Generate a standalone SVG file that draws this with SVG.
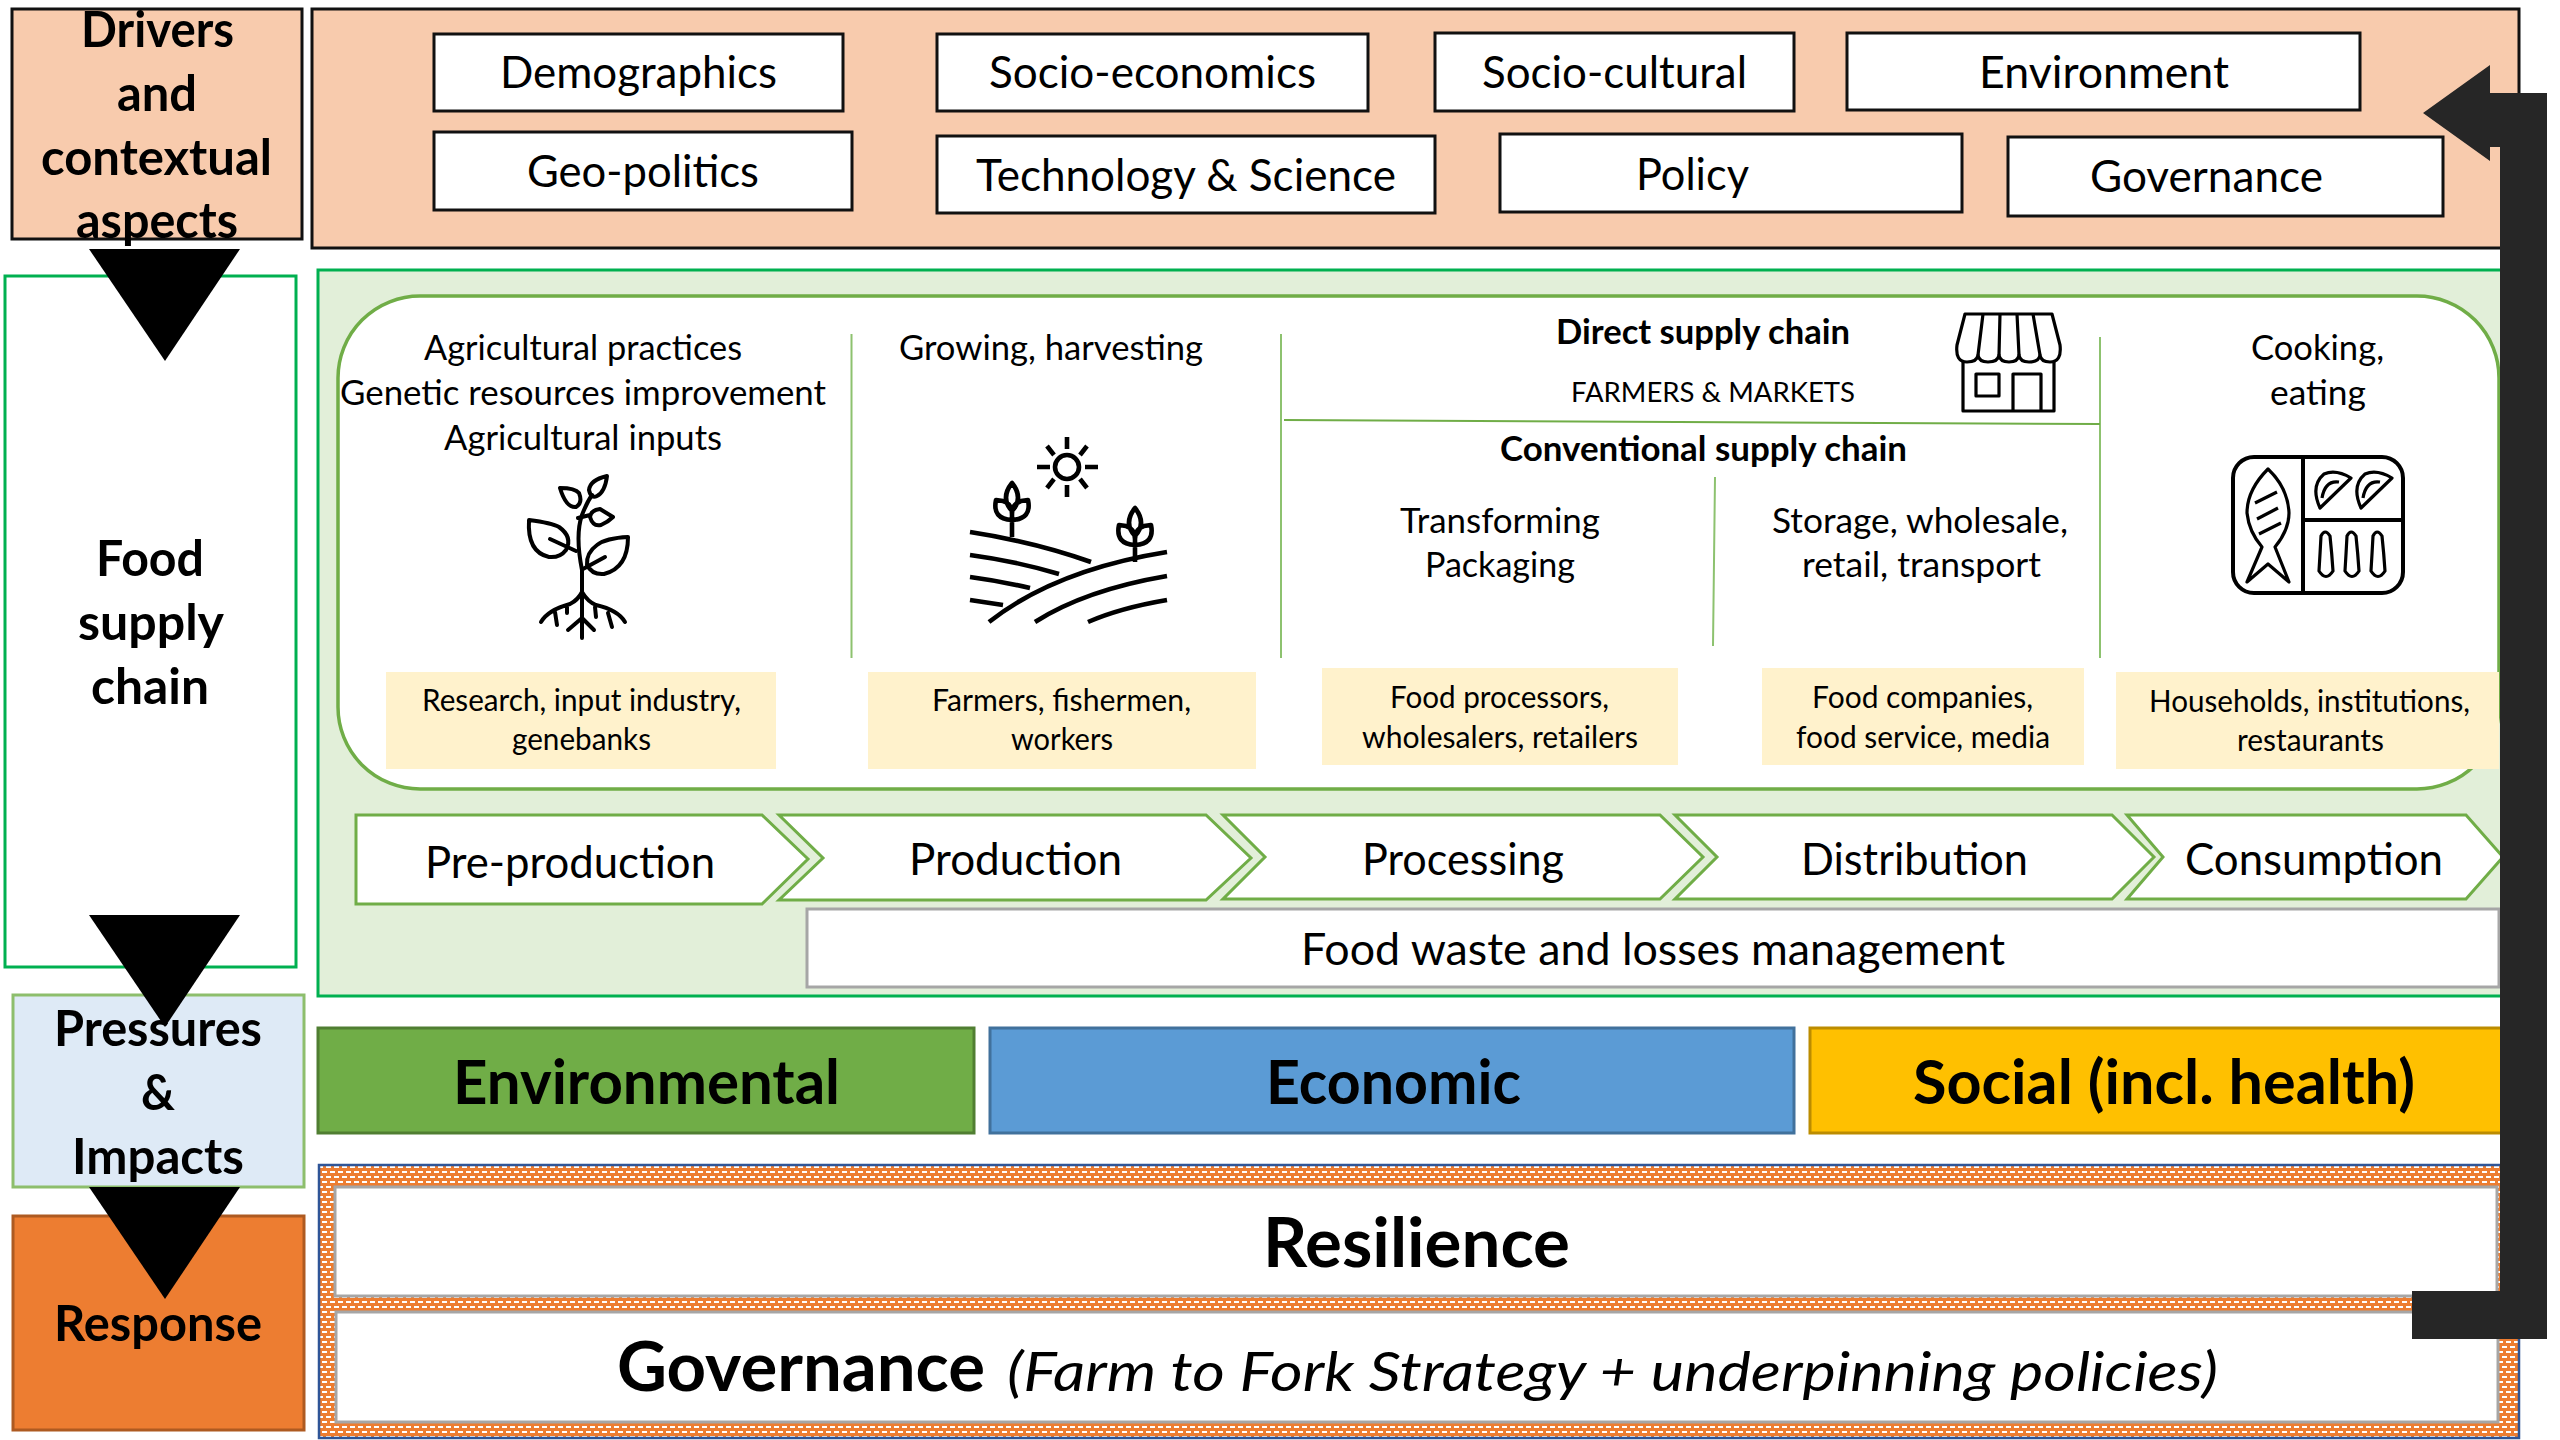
<svg xmlns="http://www.w3.org/2000/svg" width="2560" height="1440" viewBox="0 0 2560 1440">
<style>
text{font-family:"Lato","Carlito","Liberation Sans",sans-serif;fill:#000}
.b{font-weight:700}
.s48{font-size:50px}
.s43{font-size:44.5px}
.s34{font-size:35px}
.s29{font-size:30px}
.s27{font-size:27px}
.s59{font-size:62px}
.s65{font-size:68px}
.s54{font-size:55px;font-style:italic}
.box{fill:#fff;stroke:#111;stroke-width:3}
.peach{fill:#F8CBAD;stroke:#111;stroke-width:3}
.yel{fill:#FFF2CC}
.chev{fill:#fff;stroke:#70AD47;stroke-width:3}
.sep{stroke:#8DC26F;stroke-width:2;fill:none}
.gray{fill:#fff;stroke:#A6A6A6;stroke-width:3}
.ic{fill:none;stroke:#000;stroke-width:4;stroke-linecap:round;stroke-linejoin:round}
.ic2{fill:none;stroke:#000;stroke-width:3.2;stroke-linejoin:round}
.farm{fill:none;stroke:#000;stroke-width:4.6;stroke-linecap:butt;stroke-linejoin:round}
</style>
<defs>
<pattern id="dots" width="8" height="10" patternUnits="userSpaceOnUse" x="318" y="1164">
<rect width="8" height="10" fill="#ED7D31"/>
<rect x="0" y="2" width="5" height="2" fill="#fff"/>
<rect x="4" y="7" width="4" height="2" fill="#fff"/>
<rect x="0" y="7" width="1" height="2" fill="#fff"/>
</pattern>
<g id="tulip">
<path class="farm" d="M1012,537V512M1012,483Q1000,498 1012,511Q1024,498 1012,483ZM996,500Q992,519 1012,520Q1032,519 1028,500L1021,501Q1012,504 1012,514Q1012,504 1003,501Z"/>
</g>
</defs>

<g id="drivers-label">
<rect class="peach" x="12" y="9" width="290" height="230"/>
<text class="b s48" x="81" y="47" textLength="153" lengthAdjust="spacingAndGlyphs">Drivers</text>
<text class="b s48" x="117" y="111" textLength="80" lengthAdjust="spacingAndGlyphs">and</text>
<text class="b s48" x="41" y="175" textLength="231" lengthAdjust="spacingAndGlyphs">contextual</text>
<text class="b s48" x="76" y="238" textLength="162" lengthAdjust="spacingAndGlyphs">aspects</text>
</g>

<g id="drivers-panel">
<rect class="peach" x="312" y="9" width="2207" height="239"/>
</g>
<g id="driver-demographics"><rect class="box" x="434" y="34" width="409" height="77"/><text class="s43" x="500" y="88" textLength="277" lengthAdjust="spacingAndGlyphs">Demographics</text></g>
<g id="driver-socio-economics"><rect class="box" x="937" y="34" width="431" height="77"/><text class="s43" x="989" y="88" textLength="327" lengthAdjust="spacingAndGlyphs">Socio-economics</text></g>
<g id="driver-socio-cultural"><rect class="box" x="1435" y="33" width="359" height="78"/><text class="s43" x="1482" y="88" textLength="265" lengthAdjust="spacingAndGlyphs">Socio-cultural</text></g>
<g id="driver-environment"><rect class="box" x="1847" y="33" width="513" height="77"/><text class="s43" x="1979" y="88" textLength="250" lengthAdjust="spacingAndGlyphs">Environment</text></g>
<g id="driver-geo-politics"><rect class="box" x="434" y="132" width="418" height="78"/><text class="s43" x="527" y="187" textLength="232" lengthAdjust="spacingAndGlyphs">Geo-politics</text></g>
<g id="driver-technology"><rect class="box" x="937" y="136" width="498" height="77"/><text class="s43" x="976" y="191" textLength="420" lengthAdjust="spacingAndGlyphs">Technology &amp; Science</text></g>
<g id="driver-policy"><rect class="box" x="1500" y="134" width="462" height="78"/><text class="s43" x="1636" y="190" textLength="113" lengthAdjust="spacingAndGlyphs">Policy</text></g>
<g id="driver-governance"><rect class="box" x="2008" y="137" width="435" height="79"/><text class="s43" x="2090" y="192" textLength="233" lengthAdjust="spacingAndGlyphs">Governance</text></g>

<g id="food-label">
<rect x="5" y="276" width="291" height="691" fill="#fff" stroke="#00B050" stroke-width="3"/>
<text class="b s48" x="96" y="576" textLength="108" lengthAdjust="spacingAndGlyphs">Food</text>
<text class="b s48" x="78" y="640" textLength="146" lengthAdjust="spacingAndGlyphs">supply</text>
<text class="b s48" x="91" y="704" textLength="118" lengthAdjust="spacingAndGlyphs">chain</text>
</g>

<g id="food-panel">
<rect x="318" y="270" width="2200" height="726" fill="#E2EFD9" stroke="#00B050" stroke-width="3"/>
<rect x="338" y="296" width="2161" height="493" rx="82" ry="82" fill="#fff" stroke="#70AD47" stroke-width="3.5"/>
<path class="sep" d="M851.5,334V658M1281,334V658M2100,337V658M1715,477L1713,646"/>
<path d="M1284,420L2100,424" fill="none" stroke="#70AD47" stroke-width="2"/>
</g>

<g id="stage-preproduction">
<text class="s34" x="424" y="360" textLength="318" lengthAdjust="spacingAndGlyphs">Agricultural practices</text>
<text class="s34" x="340" y="405" textLength="486" lengthAdjust="spacingAndGlyphs">Genetic resources improvement</text>
<text class="s34" x="444" y="450" textLength="278" lengthAdjust="spacingAndGlyphs">Agricultural inputs</text>
<g class="ic" id="icon-plant">
<path d="M582,638V570Q575,535 582,515Q587,502 592,495"/>
<path d="M607,476Q590,480 589,490Q591,499 597,496Q605,492 607,476Z"/>
<path d="M560,488Q575,488 579,493Q583,503 576,507Q566,508 560,488Z"/>
<path d="M613,517L600,509Q591,510 590,517Q593,527 601,525Q608,522 613,517ZM590,515L578,518"/>
<path d="M529,520Q552,523 559,527Q573,537 566,550Q560,558 549,557Q527,552 529,520ZM550,539L576,551"/>
<path d="M628,537Q606,538 597,545Q586,553 587,565Q592,575 604,574Q628,568 628,537ZM605,557L583,569"/>
<path d="M582,592Q578,600 570,604Q548,610 541,622M582,592Q588,602 596,605Q618,610 625,622M567,606V613M555,612L557,625M595,607L596,617M608,613L612,627M568,630L582,618L594,630"/>
</g>
</g>
<g id="actor-preproduction"><rect class="yel" x="386" y="672" width="390" height="97"/>
<text class="s29" x="422" y="711" textLength="319" lengthAdjust="spacingAndGlyphs">Research, input industry,</text>
<text class="s29" x="512" y="750" textLength="139" lengthAdjust="spacingAndGlyphs">genebanks</text></g>

<g id="stage-production">
<text class="s34" x="899" y="360" textLength="304" lengthAdjust="spacingAndGlyphs">Growing, harvesting</text>
<g id="icon-farm">
<circle class="farm" cx="1067" cy="467" r="12"/>
<path class="farm" d="M1067,437V449M1067,485V497M1037,467H1050M1085,467H1098M1047,446L1054,455M1087,446L1080,455M1047,488L1054,479M1087,488L1080,479"/>
<use href="#tulip"/>
<use href="#tulip" transform="translate(123,25)"/>
<path class="farm" d="M970,532Q1035,542 1091,562M970,555Q1015,561 1059,574M970,577Q1000,581 1030,588M970,600L1003,605M989,622Q1055,570 1167,552M1035,622Q1085,590 1167,576M1088,622Q1120,608 1167,600"/>
</g>
</g>
<g id="actor-production"><rect class="yel" x="868" y="672" width="388" height="97"/>
<text class="s29" x="932" y="711" textLength="259" lengthAdjust="spacingAndGlyphs">Farmers, fishermen,</text>
<text class="s29" x="1011" y="750" textLength="102" lengthAdjust="spacingAndGlyphs">workers</text></g>

<g id="direct-chain">
<text class="b s34" x="1556" y="344" textLength="294" lengthAdjust="spacingAndGlyphs">Direct supply chain</text>
<text class="s27" x="1571" y="402" textLength="284" lengthAdjust="spacingAndGlyphs">FARMERS &amp; MARKETS</text>
<g class="ic2" id="icon-shop">
<path d="M1965,314H2052L2060,345Q2062,362 2050,362Q2041,362 2040,355Q2039,362 2029,362Q2020,362 2019,355Q2018,362 2009,362Q2000,362 1999,355Q1998,362 1988,362Q1979,362 1978,355Q1977,362 1967,362Q1955,362 1957,345Z"/>
<path d="M1983,314L1978,355M2000,314L1999,355M2017,314L2019,355M2033,314L2040,355"/>
<path d="M1963,362V411H2054V362M1976,374H1999V396H1976ZM2013,411V374H2041V411"/>
</g>
</g>
<g id="conventional-chain">
<text class="b s34" x="1500" y="461" textLength="407" lengthAdjust="spacingAndGlyphs">Conventional supply chain</text>
</g>
<g id="stage-processing">
<text class="s34" x="1400" y="533" textLength="200" lengthAdjust="spacingAndGlyphs">Transforming</text>
<text class="s34" x="1425" y="577" textLength="150" lengthAdjust="spacingAndGlyphs">Packaging</text>
</g>
<g id="actor-processing"><rect class="yel" x="1322" y="668" width="356" height="97"/>
<text class="s29" x="1390" y="708" textLength="219" lengthAdjust="spacingAndGlyphs">Food processors,</text>
<text class="s29" x="1362" y="748" textLength="276" lengthAdjust="spacingAndGlyphs">wholesalers, retailers</text></g>
<g id="stage-distribution">
<text class="s34" x="1772" y="533" textLength="296" lengthAdjust="spacingAndGlyphs">Storage, wholesale,</text>
<text class="s34" x="1802" y="577" textLength="239" lengthAdjust="spacingAndGlyphs">retail, transport</text>
</g>
<g id="actor-distribution"><rect class="yel" x="1762" y="668" width="322" height="97"/>
<text class="s29" x="1812" y="708" textLength="221" lengthAdjust="spacingAndGlyphs">Food companies,</text>
<text class="s29" x="1796" y="748" textLength="254" lengthAdjust="spacingAndGlyphs">food service, media</text></g>
<g id="stage-consumption">
<text class="s34" x="2251" y="360" textLength="133" lengthAdjust="spacingAndGlyphs">Cooking,</text>
<text class="s34" x="2270" y="405" textLength="96" lengthAdjust="spacingAndGlyphs">eating</text>
<g id="icon-plate">
<rect class="ic" x="2233" y="457" width="170" height="136" rx="21"/>
<path class="ic" stroke-linecap="butt" d="M2303,457V593M2303,520H2403"/>
<path class="ic2" d="M2268,469Q2247,490 2247,513Q2249,532 2262,547L2247,582L2268,564L2289,582L2275,547Q2289,530 2289,513Q2288,488 2268,469ZM2255,503L2277,492M2257,519L2278,508M2259,534L2281,523"/>
<path class="ic2" d="M2351,478Q2336,469 2324,474Q2310,486 2320,508ZM2339,482Q2325,480 2322,498"/>
<path class="ic2" d="M2392,478Q2377,469 2365,474Q2351,486 2361,508ZM2380,482Q2366,480 2363,498"/>
<path class="ic2" d="M2321,536Q2325,528 2330,536Q2332,555 2333,571Q2326,582 2319,571Q2320,555 2321,536Z"/>
<path class="ic2" d="M2347,536Q2351,528 2356,536Q2358,555 2359,571Q2352,582 2345,571Q2346,555 2347,536Z"/>
<path class="ic2" d="M2373,536Q2377,528 2382,536Q2384,555 2385,571Q2378,582 2371,571Q2372,555 2373,536Z"/>
</g>
</g>
<g id="actor-consumption"><rect class="yel" x="2116" y="672" width="383" height="97"/>
<text class="s29" x="2149" y="712" textLength="321" lengthAdjust="spacingAndGlyphs">Households, institutions,</text>
<text class="s29" x="2237" y="751" textLength="147" lengthAdjust="spacingAndGlyphs">restaurants</text></g>

<g id="chain-preproduction"><path class="chev" d="M356,815H762L808,859L762,904H356Z"/><text class="s43" x="425" y="878" textLength="290" lengthAdjust="spacingAndGlyphs">Pre-production</text></g>
<g id="chain-production"><path class="chev" d="M779,815H1206L1251,858L1206,900H779L823,858Z"/><text class="s43" x="909" y="875" textLength="213" lengthAdjust="spacingAndGlyphs">Production</text></g>
<g id="chain-processing"><path class="chev" d="M1223,815H1660L1703,857L1660,899H1223L1265,857Z"/><text class="s43" x="1362" y="875" textLength="202" lengthAdjust="spacingAndGlyphs">Processing</text></g>
<g id="chain-distribution"><path class="chev" d="M1675,815H2112L2154,857L2112,899H1675L1717,857Z"/><text class="s43" x="1801" y="875" textLength="227" lengthAdjust="spacingAndGlyphs">Distribution</text></g>
<g id="chain-consumption"><path class="chev" d="M2127,815H2466L2503,857L2466,899H2127L2163,857Z"/><text class="s43" x="2185" y="875" textLength="258" lengthAdjust="spacingAndGlyphs">Consumption</text></g>
<g id="food-waste"><rect class="gray" x="807" y="909" width="1692" height="78"/><text class="s43" x="1301" y="965" textLength="704" lengthAdjust="spacingAndGlyphs">Food waste and losses management</text></g>

<g id="pressures-label">
<rect x="13" y="995" width="291" height="192" fill="#DEEAF6" stroke="#8DBE6C" stroke-width="3"/>
</g>
<g id="response-label">
<rect x="13" y="1216" width="291" height="214" fill="#ED7D31" stroke="#AE5A21" stroke-width="3"/>
</g>
<g id="impact-environmental"><rect x="318" y="1028" width="656" height="105" fill="#70AD47" stroke="#507E32" stroke-width="3"/><text class="b s59" x="453" y="1104" textLength="387" lengthAdjust="spacingAndGlyphs">Environmental</text></g>
<g id="impact-economic"><rect x="990" y="1028" width="804" height="105" fill="#5B9BD5" stroke="#41719C" stroke-width="3"/><text class="b s59" x="1266" y="1104" textLength="255" lengthAdjust="spacingAndGlyphs">Economic</text></g>
<g id="impact-social"><rect x="1810" y="1028" width="700" height="105" fill="#FFC000" stroke="#BC8C00" stroke-width="3"/><text class="b s59" x="1913" y="1104" textLength="502" lengthAdjust="spacingAndGlyphs">Social (incl. health)</text></g>

<g id="response-panel">
<rect x="319" y="1165" width="2200" height="273" fill="url(#dots)" stroke="#2F5597" stroke-width="2.5"/>
</g>
<g id="resilience"><rect class="gray" x="335" y="1187" width="2162" height="109"/><text class="b s65" x="1263" y="1267" textLength="307" lengthAdjust="spacingAndGlyphs">Resilience</text></g>
<g id="governance"><rect class="gray" x="336" y="1312" width="2162" height="110"/>
<text class="b s65" x="617" y="1391" textLength="368" lengthAdjust="spacingAndGlyphs">Governance</text>
<text class="s54" x="1007" y="1391" textLength="1211" lengthAdjust="spacingAndGlyphs">(Farm to Fork Strategy + underpinning policies)</text></g>

<g id="connectors">
<polygon points="89,249 240,249 165,361"/>
<polygon points="89,915 240,915 165,1027"/>
<polygon points="89,1187 240,1187 165,1299"/>
<polygon fill="#262626" points="2423,113 2490,65 2490,93 2547,93 2547,1339 2412,1339 2412,1291 2500,1291 2500,147 2490,147 2490,161"/>
</g>

<g id="pillar-labels">
<text class="b s48" x="54" y="1046" textLength="208" lengthAdjust="spacingAndGlyphs">Pressures</text>
<text class="b s48" x="141" y="1110" textLength="34" lengthAdjust="spacingAndGlyphs">&amp;</text>
<text class="b s48" x="72" y="1174" textLength="172" lengthAdjust="spacingAndGlyphs">Impacts</text>
<text class="b s48" x="54" y="1341" textLength="208" lengthAdjust="spacingAndGlyphs">Response</text>
</g>
</svg>
